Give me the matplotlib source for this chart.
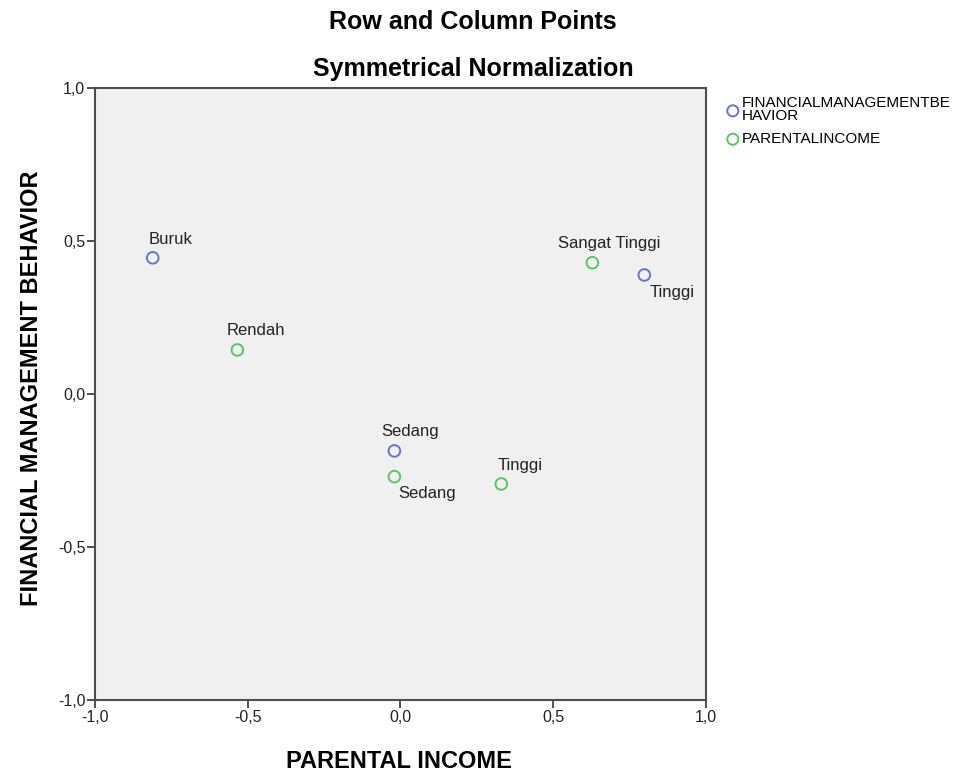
import matplotlib.pyplot as plt
import numpy as np

# row points (financial management behavior)
row_labels = ['Buruk', 'Sedang', 'Tinggi']
row_x = [-0.811, -0.020, 0.798]
row_y = [0.445, -0.186, 0.389]

# column points (parental income)
col_labels = ['Rendah', 'Sedang', 'Tinggi', 'Sangat Tinggi']
col_x = [-0.534, -0.020, 0.330, 0.628]
col_y = [0.144, -0.270, -0.294, 0.429]

ticks = [-1.0, -0.5, 0.0, 0.5, 1.0]
tick_labels = ['-1,0', '-0,5', '0,0', '0,5', '1,0']

# label offsets in pixels (left edge, vertical centre)
row_off = [(-4, 18), (-13, 19), (5, -18)]
col_off = [(-11, 19), (4, -17), (-4, 18), (-34, 19)]

blue = '#6477c4'
green = '#5cc466'
plt.rcParams['font.family'] = ['Liberation Sans', 'DejaVu Sans']

fig = plt.figure(figsize=(9.7, 7.73), dpi=100)
ax = fig.add_axes([95/970, 1-700/773, 611/970, 612/773])
ax.set_facecolor('#f0f0f0')

ax.scatter(row_x, row_y, s=70, facecolors='none', edgecolors=blue, linewidths=1.4,
           label='FINANCIALMANAGEMENTBE\nHAVIOR', zorder=3)
ax.scatter(col_x, col_y, s=70, facecolors='none', edgecolors=green, linewidths=1.4,
           label='PARENTALINCOME', zorder=3)

for lab, x, y, off in zip(row_labels, row_x, row_y, row_off):
    ax.annotate(lab, (x, y), xytext=off, textcoords='offset pixels',
                ha='left', va='center', fontsize=12, color='#222222')
for lab, x, y, off in zip(col_labels, col_x, col_y, col_off):
    ax.annotate(lab, (x, y), xytext=off, textcoords='offset pixels',
                ha='left', va='center', fontsize=12, color='#222222')

ax.set_xlim(-1, 1)
ax.set_ylim(-1, 1)
ax.set_xticks(ticks)
ax.set_xticklabels(tick_labels)
ax.set_yticks(ticks)
ax.set_yticklabels(tick_labels)
ax.tick_params(direction='out', length=6, width=1.2, colors='#333333', labelsize=11.5,
               labelcolor='#222222', pad=1)
for sp in ax.spines.values():
    sp.set_color('#4d4d4d')
    sp.set_linewidth(1.5)

fig.text(473/970, 1-29/773, 'Row and Column Points', ha='center', va='baseline',
         fontsize=18, fontweight='bold')
fig.text(473/970, 1-76/773, 'Symmetrical Normalization', ha='center', va='baseline',
         fontsize=18, fontweight='bold')
fig.text(399/970, 1-768/773, 'PARENTAL INCOME', ha='center', va='baseline',
         fontsize=17, fontweight='bold')
fig.text(32/970, 1-388/773, 'FINANCIAL MANAGEMENT BEHAVIOR', ha='center', va='center',
         rotation=90, fontsize=17, fontweight='bold')

leg = ax.legend(loc='upper left', bbox_to_anchor=(716/970, 1-88/773),
                bbox_transform=fig.transFigure, frameon=False, fontsize=11,
                handletextpad=0.0, borderpad=0, labelspacing=0.6,
                handlelength=1.2, markerscale=0.95)
for t in leg.get_texts():
    t.set_linespacing(0.95)

fig.savefig('out.png', dpi=100)
